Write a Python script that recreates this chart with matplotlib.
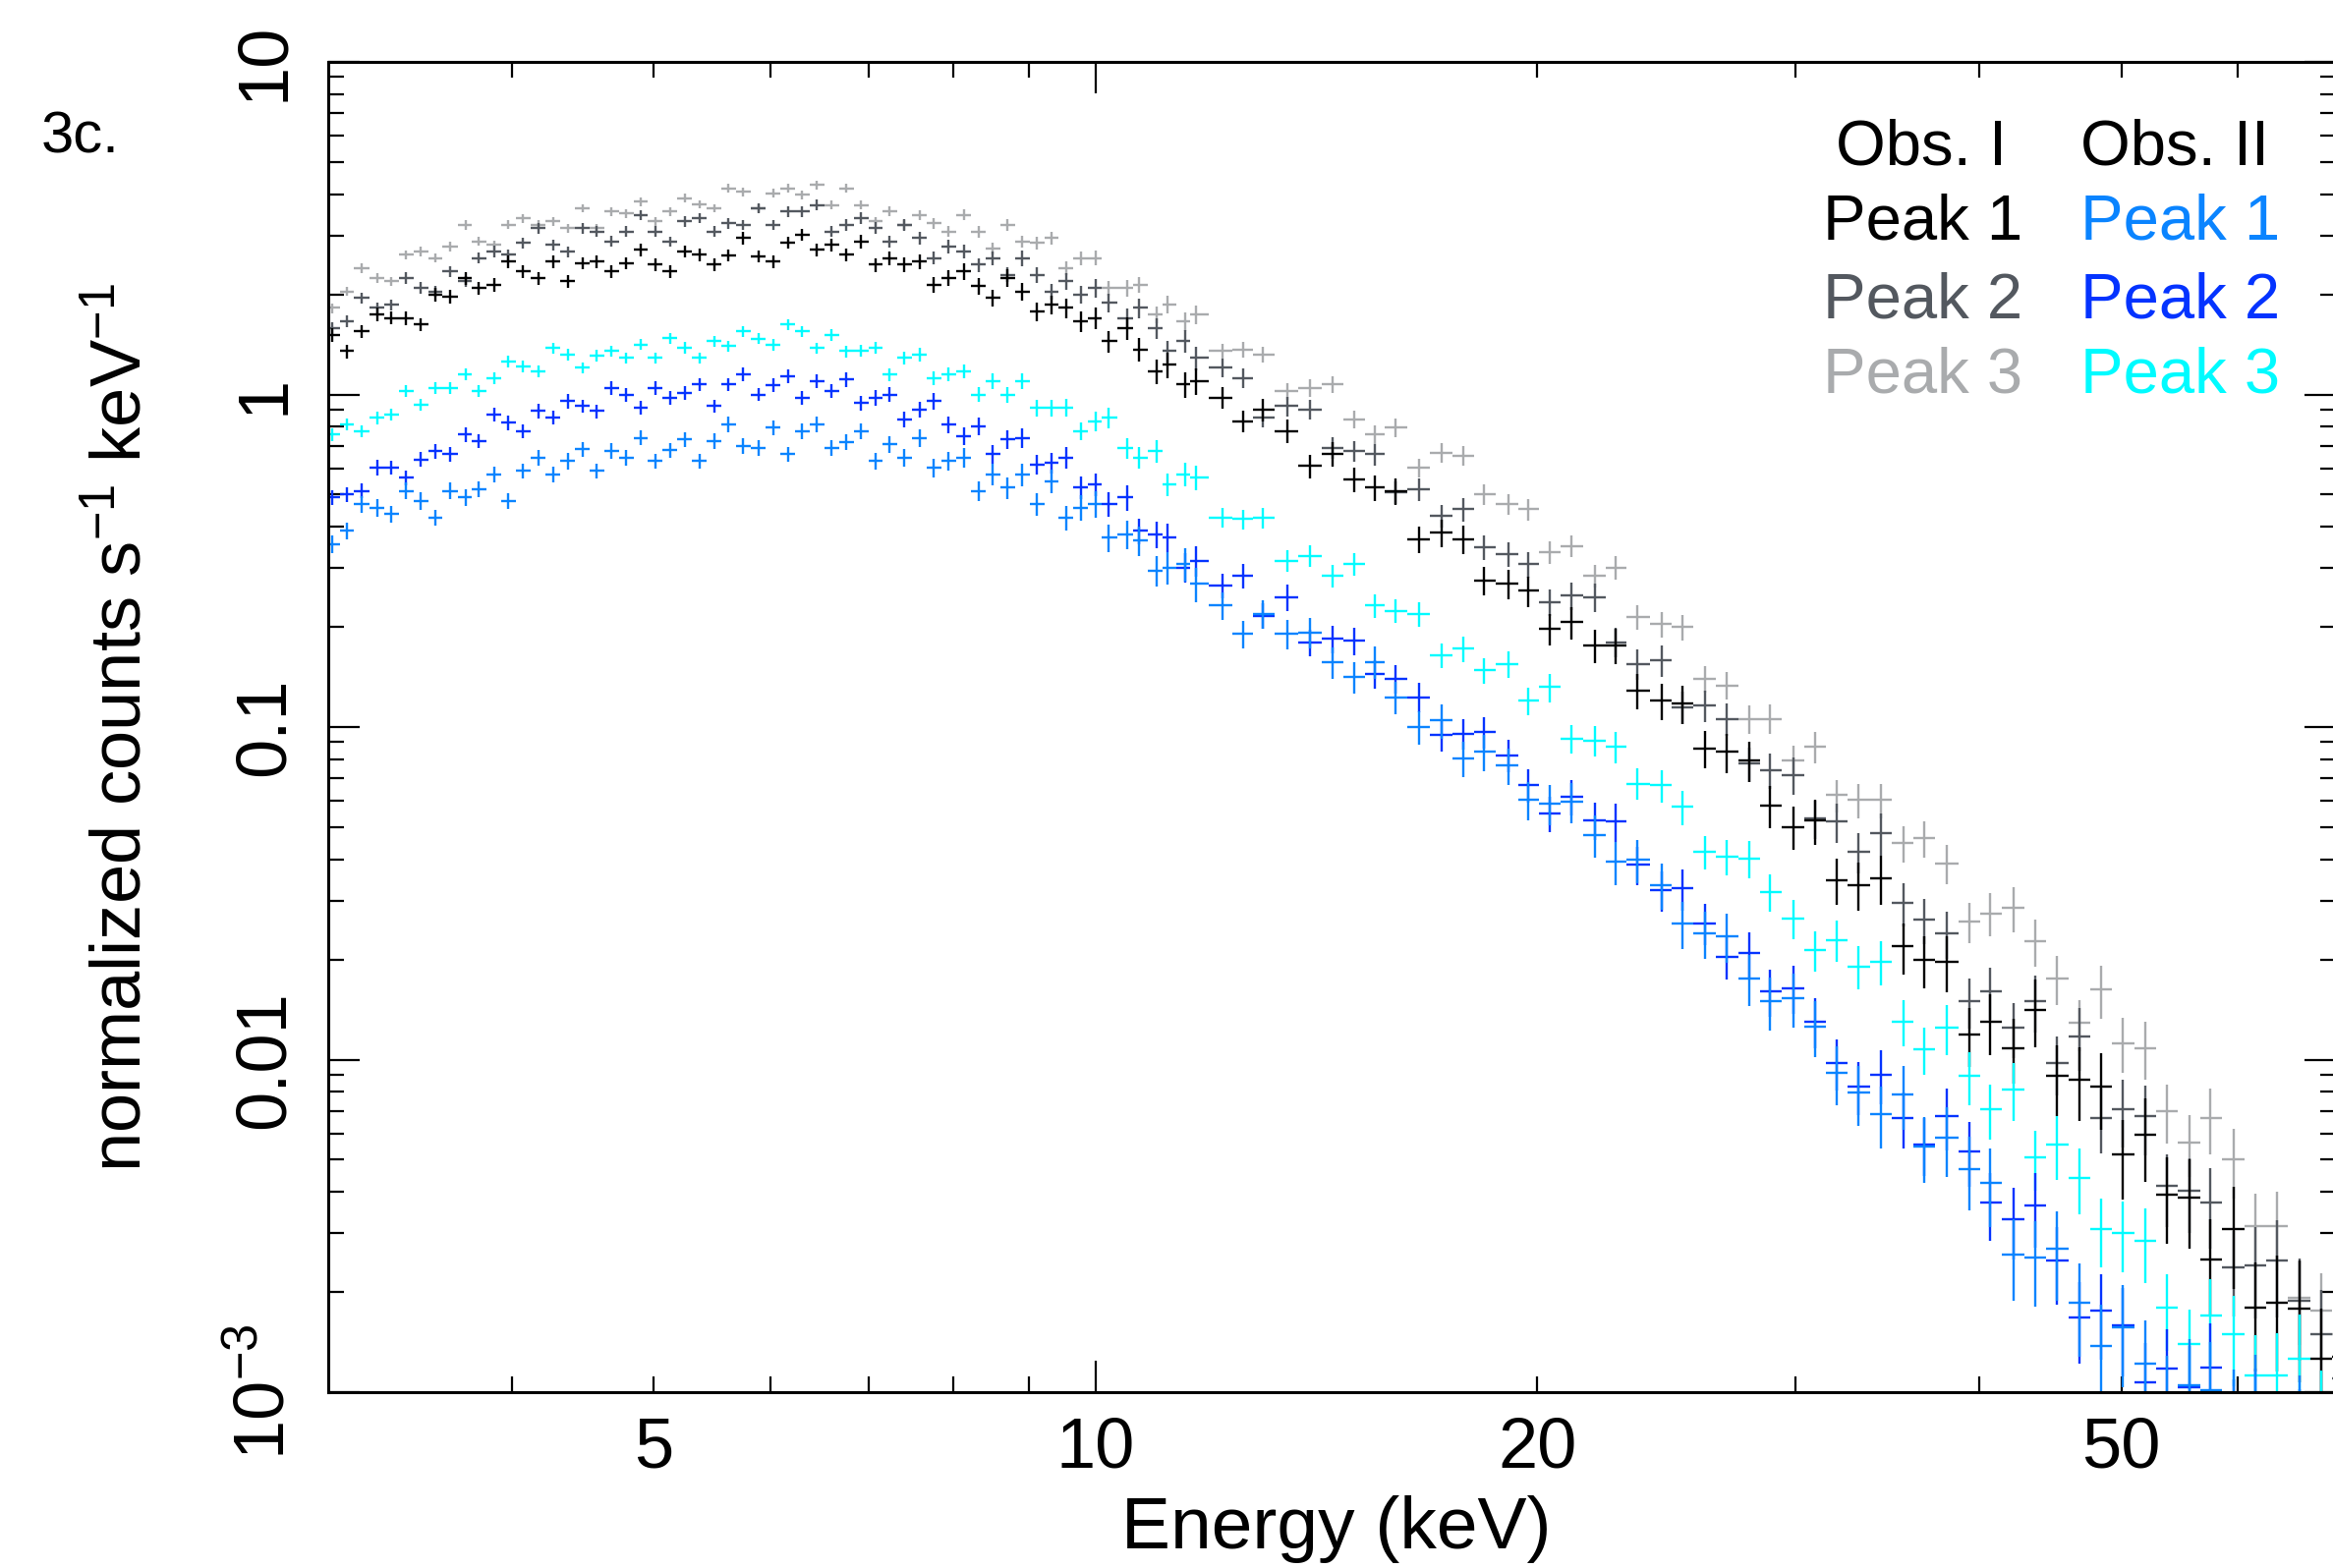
import numpy as np
import matplotlib
matplotlib.use("Agg")
import matplotlib.pyplot as plt
from matplotlib.ticker import FixedLocator, FuncFormatter, NullFormatter

plt.rcParams['font.family'] = ['Liberation Sans', 'DejaVu Sans']
plt.rcParams['mathtext.fontset'] = 'custom'
plt.rcParams['mathtext.rm'] = 'Liberation Sans'
plt.rcParams['mathtext.it'] = 'Liberation Sans:italic'
plt.rcParams['mathtext.bf'] = 'Liberation Sans:bold'

# ---------------- data ----------------
energy_keV = [
    3.02, 3.09, 3.16, 3.24, 3.31, 3.39, 3.47, 3.55, 3.63, 3.72,
    3.80, 3.89, 3.98, 4.07, 4.17, 4.27, 4.37, 4.47, 4.57, 4.68,
    4.79, 4.90, 5.01, 5.13, 5.25, 5.37, 5.50, 5.62, 5.75, 5.89,
    6.03, 6.17, 6.31, 6.46, 6.61, 6.76, 6.92, 7.08, 7.24, 7.41,
    7.59, 7.76, 7.94, 8.13, 8.32, 8.51, 8.71, 8.91, 9.12, 9.33,
    9.55, 9.77, 10.0, 10.2, 10.5, 10.7, 11.0, 11.2, 11.5, 11.7,
    12.2, 12.6, 13.0, 13.5, 14.0, 14.5, 15.0, 15.5, 16.0, 16.6,
    17.2, 17.8, 18.4, 19.1, 19.7, 20.4, 21.1, 21.9, 22.6, 23.4,
    24.3, 25.1, 26.0, 26.9, 27.9, 28.8, 29.9, 30.9, 32.0, 33.1,
    34.3, 35.5, 36.7, 38.0, 39.4, 40.7, 42.2, 43.7, 45.2, 46.8,
    48.4, 50.1, 51.9, 53.7, 55.6, 57.5, 59.6, 61.7, 63.8, 66.1,
    68.4, 70.8]

# log10 of normalized counts s^-1 keV^-1, one value per energy bin
log10_rate_obs1_peak1 = [
    0.18, 0.13, 0.19, 0.24, 0.23, 0.23, 0.21, 0.30, 0.295, 0.35,
    0.32, 0.33, 0.40, 0.37, 0.35, 0.40, 0.34, 0.395, 0.40, 0.37,
    0.395, 0.435, 0.39, 0.37, 0.43, 0.42, 0.39, 0.418, 0.47, 0.415,
    0.40, 0.457, 0.48, 0.435, 0.45, 0.42, 0.46, 0.39, 0.41, 0.39,
    0.40, 0.33, 0.35, 0.37, 0.325, 0.29, 0.35, 0.31, 0.25, 0.27,
    0.26, 0.22, 0.23, 0.16, 0.20, 0.135, 0.07, 0.09, 0.03, 0.04,
    -0.01, -0.08, -0.045, -0.11, -0.215, -0.18, -0.255, -0.28, -0.29, -0.435,
    -0.415, -0.435, -0.56, -0.57, -0.59, -0.705, -0.685, -0.755, -0.755, -0.89,
    -0.92, -0.93, -1.065, -1.075, -1.10, -1.235, -1.30, -1.28, -1.46, -1.475,
    -1.455, -1.66, -1.70, -1.705, -1.925, -1.885, -1.965, -1.85, -2.05, -2.06,
    -2.08, -2.285, -2.225, -2.405, -2.415, -2.60, -2.51, -2.745, -2.73, -2.75,
    -2.90, -2.895]

log10_rate_obs1_peak2 = [
    0.20, 0.22, 0.29, 0.26, 0.27, 0.35, 0.32, 0.31, 0.37, 0.34,
    0.41, 0.43, 0.42, 0.455, 0.50, 0.45, 0.43, 0.50, 0.49, 0.46,
    0.49, 0.54, 0.49, 0.46, 0.52, 0.53, 0.49, 0.515, 0.51, 0.56,
    0.51, 0.55, 0.55, 0.57, 0.49, 0.51, 0.53, 0.50, 0.46, 0.51,
    0.47, 0.41, 0.445, 0.43, 0.39, 0.41, 0.36, 0.41, 0.36, 0.31,
    0.34, 0.30, 0.32, 0.275, 0.23, 0.26, 0.20, 0.13, 0.16, 0.11,
    0.08, 0.05, -0.07, -0.035, -0.045, -0.16, -0.17, -0.18, -0.295, -0.285,
    -0.365, -0.345, -0.46, -0.48, -0.51, -0.625, -0.605, -0.61, -0.745, -0.81,
    -0.80, -0.94, -0.935, -0.975, -1.11, -1.13, -1.145, -1.275, -1.285, -1.375,
    -1.32, -1.53, -1.58, -1.62, -1.825, -1.795, -1.905, -1.825, -2.01, -1.93,
    -2.175, -2.15, -2.17, -2.38, -2.395, -2.43, -2.625, -2.62, -2.605, -2.725,
    -2.825, -2.96]

log10_rate_obs1_peak3 = [
    0.26, 0.31, 0.38, 0.35, 0.34, 0.42, 0.43, 0.41, 0.445, 0.51,
    0.46, 0.45, 0.51, 0.53, 0.51, 0.52, 0.50, 0.56, 0.50, 0.55,
    0.545, 0.58, 0.52, 0.55, 0.59, 0.572, 0.56, 0.62, 0.61, 0.56,
    0.605, 0.62, 0.60, 0.63, 0.57, 0.62, 0.57, 0.52, 0.55, 0.51,
    0.54, 0.515, 0.49, 0.54, 0.49, 0.44, 0.51, 0.46, 0.455, 0.47,
    0.38, 0.41, 0.41, 0.32, 0.32, 0.33, 0.24, 0.27, 0.22, 0.24,
    0.13, 0.135, 0.12, 0.01, 0.02, 0.03, -0.075, -0.12, -0.10, -0.22,
    -0.175, -0.185, -0.30, -0.33, -0.345, -0.475, -0.455, -0.545, -0.52, -0.67,
    -0.69, -0.70, -0.855, -0.875, -0.975, -0.975, -1.10, -1.06, -1.205, -1.22,
    -1.22, -1.35, -1.335, -1.41, -1.585, -1.56, -1.545, -1.645, -1.755, -1.89,
    -1.79, -1.95, -1.965, -2.155, -2.25, -2.175, -2.30, -2.50, -2.50, -2.715,
    -2.755, -2.825]

log10_rate_obs2_peak1 = [
    -0.45, -0.41, -0.33, -0.34, -0.36, -0.29, -0.32, -0.37, -0.29, -0.31,
    -0.285, -0.24, -0.32, -0.23, -0.19, -0.24, -0.20, -0.165, -0.23, -0.17,
    -0.19, -0.13, -0.20, -0.167, -0.135, -0.20, -0.14, -0.09, -0.155, -0.16,
    -0.10, -0.18, -0.11, -0.09, -0.16, -0.143, -0.11, -0.20, -0.15, -0.19,
    -0.13, -0.22, -0.20, -0.19, -0.29, -0.24, -0.28, -0.24, -0.33, -0.26,
    -0.37, -0.34, -0.33, -0.43, -0.42, -0.44, -0.53, -0.52, -0.51, -0.57,
    -0.635, -0.72, -0.66, -0.72, -0.715, -0.805, -0.85, -0.805, -0.91, -1.00,
    -0.98, -1.095, -1.075, -1.115, -1.22, -1.23, -1.225, -1.325, -1.405, -1.40,
    -1.475, -1.59, -1.62, -1.63, -1.755, -1.825, -1.815, -1.90, -2.04, -2.10,
    -2.165, -2.105, -2.26, -2.235, -2.33, -2.37, -2.585, -2.595, -2.57, -2.73,
    -2.86, -2.805, -2.915, -3.025, -2.98, -2.995, -3.085, -3.05, -3.20, -3.125,
    -3.25, -3.375]

log10_rate_obs2_peak2 = [
    -0.31, -0.30, -0.29, -0.22, -0.22, -0.25, -0.195, -0.17, -0.18, -0.12,
    -0.14, -0.06, -0.085, -0.11, -0.05, -0.07, -0.02, -0.035, -0.05, 0.02,
    0.00, -0.04, 0.02, -0.01, 0.005, 0.03, -0.035, 0.03, 0.06, 0.00,
    0.028, 0.055, -0.01, 0.04, 0.01, 0.045, -0.025, -0.01, 0.00, -0.075,
    -0.045, -0.02, -0.09, -0.125, -0.095, -0.18, -0.135, -0.13, -0.21, -0.205,
    -0.19, -0.28, -0.27, -0.33, -0.31, -0.41, -0.42, -0.43, -0.52, -0.50,
    -0.575, -0.545, -0.665, -0.61, -0.745, -0.735, -0.74, -0.84, -0.855, -0.91,
    -1.025, -1.02, -1.015, -1.085, -1.175, -1.26, -1.21, -1.28, -1.285, -1.415,
    -1.49, -1.485, -1.59, -1.69, -1.68, -1.795, -1.785, -1.885, -2.01, -2.08,
    -2.045, -2.175, -2.255, -2.17, -2.275, -2.43, -2.48, -2.44, -2.605, -2.775,
    -2.755, -2.80, -2.97, -2.93, -2.985, -2.925, -3.10, -3.075, -3.15, -3.15,
    -3.325, -3.325]

log10_rate_obs2_peak3 = [
    -0.12, -0.09, -0.11, -0.07, -0.06, 0.01, -0.03, 0.02, 0.02, 0.06,
    0.01, 0.05, 0.10, 0.085, 0.07, 0.14, 0.12, 0.08, 0.117, 0.13,
    0.11, 0.15, 0.11, 0.17, 0.141, 0.11, 0.16, 0.145, 0.19, 0.168,
    0.15, 0.21, 0.19, 0.14, 0.18, 0.13, 0.132, 0.14, 0.06, 0.11,
    0.12, 0.05, 0.062, 0.07, 0.00, 0.04, 0.00, 0.04, -0.04, -0.04,
    -0.04, -0.11, -0.08, -0.07, -0.16, -0.19, -0.17, -0.27, -0.24, -0.25,
    -0.37, -0.375, -0.37, -0.50, -0.485, -0.545, -0.51, -0.635, -0.65, -0.66,
    -0.785, -0.765, -0.83, -0.81, -0.92, -0.88, -1.035, -1.04, -1.06, -1.17,
    -1.175, -1.24, -1.375, -1.39, -1.395, -1.495, -1.575, -1.67, -1.64, -1.72,
    -1.705, -1.885, -1.97, -1.905, -2.05, -2.15, -2.09, -2.295, -2.255, -2.355,
    -2.51, -2.52, -2.545, -2.745, -2.855, -2.77, -2.825, -2.95, -2.95, -2.90,
    -3.075, -3.175]

# fractional 1-sigma error of each bin (brightest spectrum), and per-spectrum factor
rel_err = [
    0.048, 0.047, 0.046, 0.048, 0.045, 0.046, 0.047, 0.045, 0.046, 0.045,
    0.044, 0.045, 0.044, 0.043, 0.044, 0.043, 0.044, 0.043, 0.043, 0.044,
    0.043, 0.042, 0.043, 0.042, 0.043, 0.042, 0.043, 0.042, 0.043, 0.042,
    0.043, 0.042, 0.042, 0.043, 0.044, 0.045, 0.046, 0.047, 0.048, 0.049,
    0.050, 0.052, 0.053, 0.055, 0.056, 0.058, 0.060, 0.062, 0.064, 0.066,
    0.068, 0.070, 0.073, 0.076, 0.079, 0.082, 0.085, 0.088, 0.091, 0.094,
    0.075, 0.077, 0.079, 0.081, 0.083, 0.085, 0.087, 0.089, 0.091, 0.093,
    0.095, 0.097, 0.099, 0.100, 0.105, 0.110, 0.110, 0.115, 0.120, 0.120,
    0.125, 0.130, 0.130, 0.135, 0.140, 0.145, 0.150, 0.155, 0.160, 0.165,
    0.170, 0.175, 0.180, 0.190, 0.200, 0.210, 0.220, 0.230, 0.240, 0.250,
    0.260, 0.270, 0.280, 0.290, 0.300, 0.320, 0.340, 0.360, 0.380, 0.400,
    0.420, 0.440]

series_names = ["Obs. I Peak 3", "Obs. I Peak 2", "Obs. I Peak 1",
                "Obs. II Peak 3", "Obs. II Peak 2", "Obs. II Peak 1"]
series_values = [log10_rate_obs1_peak3, log10_rate_obs1_peak2, log10_rate_obs1_peak1,
                 log10_rate_obs2_peak3, log10_rate_obs2_peak2, log10_rate_obs2_peak1]
series_err_factor = [0.7, 0.85, 1.0, 0.9, 1.1, 1.25]
series_colors = ["#a9abad", "#53585f", "#000000", "#00fbff", "#0433ff", "#0a84ff"]

legend_headers = ["Obs. I", "Obs. II"]
legend_peaks = ["Peak 1", "Peak 2", "Peak 3"]
legend_colors_obs1 = ["#000000", "#53585f", "#a9abad"]
legend_colors_obs2 = ["#0a84ff", "#0433ff", "#00fbff"]

x_label_ticks = [5, 10, 20, 50]
y_major_ticks = [1e-3, 1e-2, 0.1, 1, 10]
y_major_labels = [r"10$^{-3}$", "0.01", "0.1", "1", "10"]

# ---------------- figure ----------------
W, H = 2374, 1596
fig = plt.figure(figsize=(W / 100, H / 100), dpi=100)
ax = fig.add_axes([334 / W, 1 - 1417 / H, (2377 - 334) / W, (1417 - 63) / H])
ax.set_xscale("log")
ax.set_yscale("log")

E = np.array(energy_keV)
logE = np.log10(E)
mids = 0.5 * (logE[:-1] + logE[1:])
lo_edge = 10 ** np.concatenate([[2 * logE[0] - mids[0]], mids])
hi_edge = 10 ** np.concatenate([mids, [2 * logE[-1] - mids[-1]]])
xerr = np.vstack([E - lo_edge, hi_edge - E])
rel = np.array(rel_err)

for vals, fac, col in zip(series_values, series_err_factor, series_colors):
    y = 10 ** np.array(vals)
    s = np.minimum(rel * fac, 0.93)
    yerr = np.vstack([y * s, y * rel * fac])
    ax.errorbar(E, y, xerr=xerr, yerr=yerr, fmt="none", ecolor=col,
                elinewidth=1.7, capsize=0)

ax.set_xlim(3, 70)
ax.set_ylim(1e-3, 10)

# x ticks: long tick at 10, short ticks elsewhere; labels at 5, 10, 20, 50
ax.xaxis.set_major_locator(FixedLocator([10]))
ax.xaxis.set_major_formatter(FuncFormatter(lambda v, p: "10"))
ax.xaxis.set_minor_locator(FixedLocator([4, 5, 6, 7, 8, 9, 20, 30, 40, 50, 60, 70]))
ax.xaxis.set_minor_formatter(FuncFormatter(
    lambda v, p: str(int(round(v))) if int(round(v)) in x_label_ticks else ""))

ax.yaxis.set_major_locator(FixedLocator(y_major_ticks))
ax.set_yticklabels(y_major_labels, rotation=90, va="center")
ax.yaxis.set_minor_locator(FixedLocator(
    [m * 10.0 ** d for d in range(-3, 1) for m in range(2, 10)]))
ax.yaxis.set_minor_formatter(NullFormatter())

ax.tick_params(which="both", direction="in", top=True, right=True, width=1.6,
               labelsize=52, colors="black")
ax.tick_params(axis="x", which="major", length=23, pad=18)
ax.tick_params(axis="x", which="minor", length=11.5, pad=18)
ax.tick_params(axis="y", which="major", length=23, pad=22)
ax.tick_params(axis="y", which="minor", length=11.5)
for sp in ax.spines.values():
    sp.set_linewidth(2.2)

# axis labels
fig.text(1360 / W, 1 - 1576 / H, "Energy (keV)", fontsize=54, ha="center", va="baseline")
fig.text(125 / W, 1 - 740 / H, r"normalized counts s$^{-1}$ keV$^{-1}$",
         fontsize=52, rotation=90, ha="center", va="center")
fig.text(42 / W, 1 - 155 / H, "3c.", fontsize=43, ha="left", va="baseline")

# legend (text table)
fig.text(1868 / W, 1 - 168 / H, legend_headers[0], fontsize=47, ha="left", va="baseline")
fig.text(2117 / W, 1 - 168 / H, legend_headers[1], fontsize=47, ha="left", va="baseline")
for i, (lab, c1, c2) in enumerate(zip(legend_peaks, legend_colors_obs1, legend_colors_obs2)):
    yb = [243, 323, 400][i]
    fig.text(1855 / W, 1 - yb / H, lab, fontsize=47, color=c1, ha="left", va="baseline")
    fig.text(2117 / W, 1 - yb / H, lab, fontsize=47, color=c2, ha="left", va="baseline")

fig.savefig("out.png", dpi=100)
